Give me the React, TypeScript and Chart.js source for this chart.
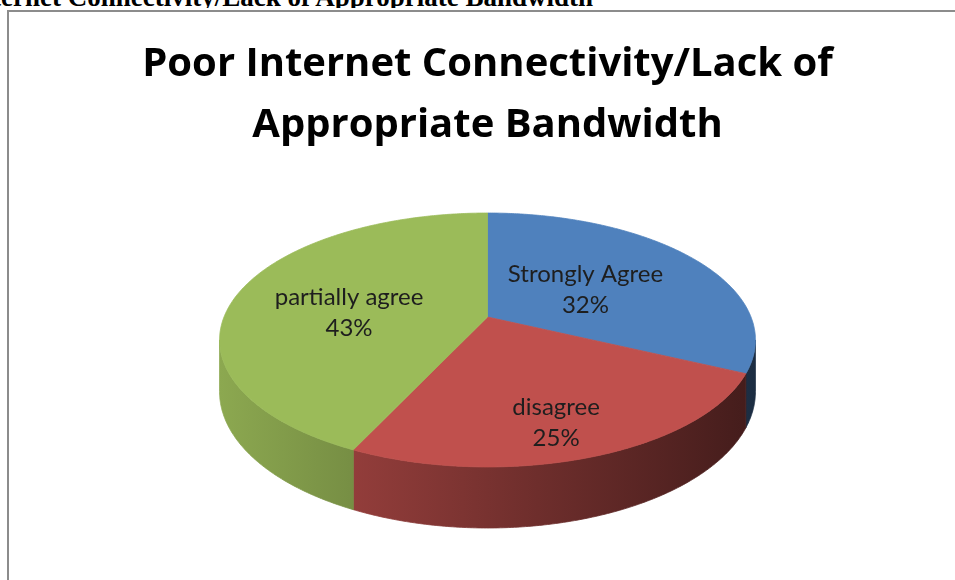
import React, { useEffect, useRef } from "react";
import { Chart, registerables } from "chart.js";

Chart.register(...registerables);

// ---------- data ----------
const CATEGORIES = ["Strongly Agree", "disagree", "partially agree"];
const VALUES = [32, 25, 43];
const COLORS = ["#4F81BD", "#C0504D", "#9BBB59"];
const TITLE_LINES = ["Poor Internet Connectivity/Lack of", "Appropriate Bandwidth"];
const HEADER_TEXT = "Poor Internet Connectivity/Lack of Appropriate Bandwidth";

// ---------- 3D projection (layout) ----------
const CX = 487.5;
const CY = 317;
const SX = 263.5;
const SY = 122.8;
const PERSP = 0.181;
const DEPTH = 50;
// label placement along each slice bisector: [radius fraction, depth fraction]
const LABEL_PLACE: [number, number][] = [
  [0.46, 0.04],
  [0.68, 0.3],
  [0.55, 0.21],
];

function proj(phi: number, r: number, h: number): [number, number] {
  const D = 1 + PERSP * r * Math.cos(phi);
  return [CX + (SX * r * Math.sin(phi)) / D, CY - (SY * r * Math.cos(phi)) / D + (h * DEPTH) / D];
}

function rim(a0: number, a1: number, h: number): [number, number][] {
  const n = Math.max(2, Math.ceil(Math.abs(a1 - a0) / (Math.PI / 360)));
  const pts: [number, number][] = [];
  for (let i = 0; i <= n; i++) {
    const phi = a0 + ((a1 - a0) * i) / n;
    pts.push(proj(phi, 1, h));
  }
  return pts;
}

function hexToRgb(hex: string): [number, number, number] {
  const v = parseInt(hex.slice(1), 16);
  return [(v >> 16) & 255, (v >> 8) & 255, v & 255];
}
function shade(hex: string, f: number): string {
  const [r, g, b] = hexToRgb(hex);
  return `rgb(${Math.round(r * f)},${Math.round(g * f)},${Math.round(b * f)})`;
}

const pie3d = {
  id: "pie3d",
  beforeDatasetsDraw(chart: any) {
    const ctx: CanvasRenderingContext2D = chart.ctx;
    const meta = chart.getDatasetMeta(0);
    const arcs = meta.data.map((el: any) => {
      const p = el.getProps(["startAngle", "endAngle"], true);
      return { s: p.startAngle + Math.PI / 2, e: p.endAngle + Math.PI / 2 };
    });
    const colors = chart.data.datasets[0].backgroundColor as string[];
    const phiR = Math.acos(-PERSP);
    const phiL = 2 * Math.PI - phiR;
    const leftX = CX - SX * 1.017;
    const rightX = CX + SX * 1.017;

    ctx.save();
    // side walls
    arcs.forEach((a: any, i: number) => {
      const s = Math.max(a.s, phiR);
      const e = Math.min(a.e, phiL);
      if (e <= s) return;
      const top = rim(s, e, 0);
      const bot = rim(e, s, 1);
      const grad = ctx.createLinearGradient(leftX, 0, rightX, 0);
      grad.addColorStop(0, shade(colors[i], 0.9));
      grad.addColorStop(1, shade(colors[i], 0.35));
      ctx.beginPath();
      top.forEach(([x, y], k) => (k === 0 ? ctx.moveTo(x, y) : ctx.lineTo(x, y)));
      bot.forEach(([x, y]) => ctx.lineTo(x, y));
      ctx.closePath();
      ctx.fillStyle = grad;
      ctx.strokeStyle = grad;
      ctx.lineWidth = 0.8;
      ctx.fill();
      ctx.stroke();
    });
    // top faces
    arcs.forEach((a: any, i: number) => {
      const pts = rim(a.s, a.e, 0);
      ctx.beginPath();
      ctx.moveTo(CX, CY);
      pts.forEach(([x, y]) => ctx.lineTo(x, y));
      ctx.closePath();
      ctx.fillStyle = colors[i];
      ctx.strokeStyle = colors[i];
      ctx.lineWidth = 0.8;
      ctx.fill();
      ctx.stroke();
    });
    // labels
    const data = chart.data.datasets[0].data as number[];
    const total = data.reduce((p: number, v: number) => p + v, 0);
    ctx.fillStyle = "#1e1e1e";
    ctx.font = "24px Lato";
    ctx.textAlign = "center";
    ctx.textBaseline = "middle";
    arcs.forEach((a: any, i: number) => {
      const mid = (a.s + a.e) / 2;
      const [lr, lh] = LABEL_PLACE[i];
      const [x, y] = proj(mid, lr, lh);
      ctx.fillText(String(chart.data.labels[i]), x, y - 15.5);
      ctx.fillText(Math.round((data[i] / total) * 100) + "%", x, y + 15.5);
    });
    ctx.restore();
    return false;
  },
};

export default function App() {
  const ref = useRef<HTMLCanvasElement>(null);
  useEffect(() => {
    if (!ref.current) return;
    const chart = new Chart(ref.current, {
      type: "pie",
      data: {
        labels: CATEGORIES,
        datasets: [{ data: VALUES, backgroundColor: COLORS, borderWidth: 0 }],
      },
      options: {
        responsive: false,
        animation: false,
        layout: { padding: { left: 20, right: 0, top: 0, bottom: 0 } },
        plugins: {
          legend: { display: false },
          tooltip: { enabled: false },
          title: {
            display: true,
            text: TITLE_LINES,
            color: "#000000",
            font: { family: "'Open Sans'", size: 40, weight: "bold", lineHeight: 61 / 40 },
            padding: { top: 34, bottom: 10 },
          },
        },
      },
      plugins: [pie3d as any],
    });
    return () => chart.destroy();
  }, []);

  return (
    <div style={{ position: "fixed", left: 0, top: 0, width: 955, height: 580, overflow: "hidden", background: "#fff" }}>
      <div
        style={{
          position: "absolute",
          right: 362,
          top: -16,
          whiteSpace: "nowrap",
          fontFamily: "'Liberation Serif', 'Times New Roman', serif",
          fontWeight: "bold",
          fontSize: 27,
          lineHeight: "27px",
          color: "#000",
        }}
      >
        {HEADER_TEXT}
      </div>
      <div style={{ position: "absolute", left: 0, top: 7.5, width: 955, height: 600, background: "#fff" }} />
      <div
        style={{
          position: "absolute",
          left: 7,
          top: 10,
          width: 1200,
          height: 1200,
          border: "2px solid #8c8c8c",
          boxSizing: "border-box",
        }}
      />
      <canvas ref={ref} width={955} height={580} style={{ position: "absolute", left: 0, top: 0 }} />
    </div>
  );
}
